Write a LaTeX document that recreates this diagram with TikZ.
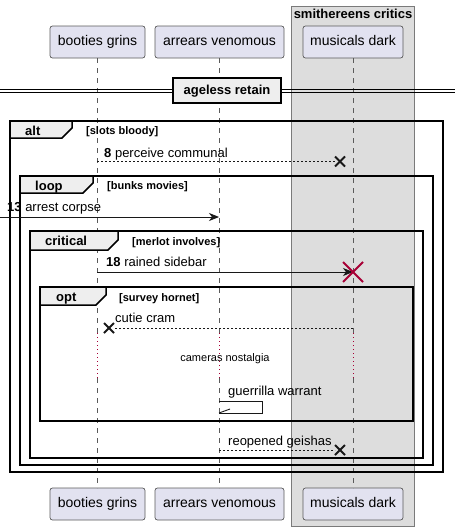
\documentclass[tikz,border=0pt]{standalone}
\usepackage{fontspec}
\setmainfont{Liberation Sans}
\usetikzlibrary{arrows.meta}
\definecolor{partfill}{HTML}{E2E2F0}
\definecolor{partline}{HTML}{5A5A5A}
\definecolor{grpfill}{HTML}{DDDDDD}
\definecolor{grpline}{HTML}{7A7A7A}
\definecolor{tabfill}{HTML}{EEEEEE}
\definecolor{msgline}{HTML}{181818}
\definecolor{darkred}{HTML}{A80036}
\tikzset{
  part/.style={draw=partline, fill=partfill, line width=0.7pt, rounded corners=2.5pt,
    minimum height=32pt, inner sep=0pt, text height=10pt, text depth=3pt,
    font=\fontsize{14}{16}\selectfont},
  life/.style={draw=partline, line width=0.7pt, dash pattern=on 5pt off 5pt},
  delayline/.style={draw=darkred, line width=0.8pt, dash pattern=on 1pt off 3pt},
  frameline/.style={draw=black, line width=1.5pt},
  tabshape/.style={draw=black, fill=tabfill, line width=1.5pt},
  ftitle/.style={anchor=base west, inner sep=0pt, font=\bfseries\fontsize{13}{15}\selectfont},
  fcond/.style={anchor=base west, inner sep=0pt, font=\bfseries\fontsize{11}{13}\selectfont},
  mlabel/.style={anchor=base west, inner sep=0pt, font=\fontsize{13}{15}\selectfont},
  msg/.style={draw=msgline, line width=0.9pt},
  msgdash/.style={draw=msgline, line width=0.9pt, dash pattern=on 2pt off 2pt},
  arrowtip/.style={-{Stealth[length=10pt,width=8pt,inset=3pt]}},
  xmark/.style={draw=msgline, line width=1.8pt},
  redx/.style={draw=darkred, line width=1.8pt}
}
\begin{document}
\begin{tikzpicture}[x=1pt,y=-1pt]
\useasboundingbox (0,0) rectangle (459,530);
% group box
\draw[fill=grpfill, draw=grpline, line width=1pt] (291,6) rectangle (414,526);
\node[anchor=base, inner sep=0pt, font=\bfseries\fontsize{13}{15}\selectfont] (grp) at (353,19) {smithereens critics};
% participants
\node[part, minimum width=95pt] (bgT) at (97.5,42) {booties grins};
\node[part, minimum width=129pt] (avT) at (219.5,42) {arrears venomous};
\node[part, minimum width=100pt] (mdT) at (353,42) {musicals dark};
\node[part, minimum width=95pt] (bgB) at (97.5,504) {booties grins};
\node[part, minimum width=129pt] (avB) at (219.5,504) {arrears venomous};
\node[part, minimum width=100pt] (mdB) at (353,504) {musicals dark};
% lifelines
\foreach \p/\x in {bg/97,av/219,md/353}{
  \coordinate (\p L1) at (\x,58);
  \coordinate (\p L2) at (\x,333);
  \coordinate (\p L3) at (\x,378);
  \coordinate (\p L4) at (\x,488);
  \draw[life] (\p L1) -- (\p L2);
  \draw[delayline] (\p L2) -- (\p L3);
  \draw[life] (\p L3) -- (\p L4);
}
% divider
\coordinate (dvA1) at (0,89); \coordinate (dvB1) at (455,89);
\coordinate (dvA2) at (0,92.5); \coordinate (dvB2) at (455,92.5);
\draw[line width=1pt] (dvA1) -- (dvB1);
\draw[line width=1pt] (dvA2) -- (dvB2);
\node[draw=black, fill=tabfill, line width=2pt, minimum width=108pt, minimum height=25pt, inner sep=0pt,
  font=\bfseries\fontsize{13}{15}\selectfont, text height=9.5pt, text depth=2.5pt] (div) at (227,90.5) {ageless retain};
% frames
% alt
\draw[frameline] (10,121) rectangle (443,472);
\draw[tabshape] (10,121) -- (72,121) -- (72,128) -- (62,138) -- (10,138) -- cycle;
\node[ftitle] (altT) at (25,135) {alt};
\node[fcond] (altC) at (86,134) {[slots bloody]};
% loop
\draw[frameline] (20,176) rectangle (433,465);
\draw[tabshape] (20,176) -- (93,176) -- (93,183) -- (83,193) -- (20,193) -- cycle;
\node[ftitle] (loopT) at (35,190) {loop};
\node[fcond] (loopC) at (107,189) {[bunks movies]};
% critical
\draw[frameline] (30,231) rectangle (423,458);
\draw[tabshape] (30,231) -- (118,231) -- (118,240) -- (108,250) -- (30,250) -- cycle;
\node[ftitle] (critT) at (45,245) {critical};
\node[fcond] (critC) at (132,245) {[merlot involves]};
% opt
\draw[frameline] (40,287) rectangle (413,421);
\draw[tabshape] (40,287) -- (106,287) -- (106,295) -- (96,305) -- (40,305) -- cycle;
\node[ftitle] (optT) at (56,301) {opt};
\node[fcond] (optC) at (119,301) {[survey hornet]};
% message 8
\coordinate (m8a) at (97,161.5); \coordinate (m8b) at (335,161.5);
\draw[msgdash] (m8a) -- (m8b);
\coordinate (x8) at (340,161.5);
\draw[xmark] ([shift={(-5,-5)}]x8) -- ([shift={(5,5)}]x8);
\draw[xmark] ([shift={(-5,5)}]x8) -- ([shift={(5,-5)}]x8);
\node[mlabel] (l8) at (104,157) {\textbf{8} perceive communal};
% message 13
\coordinate (m13a) at (0,217); \coordinate (m13b) at (219,217);
\draw[msg, arrowtip] (m13a) -- (m13b);
\node[mlabel] (l13) at (7,211.5) {\textbf{13} arrest corpse};
% message 18
\coordinate (m18a) at (97,272); \coordinate (m18b) at (353,272);
\draw[msg, arrowtip] (m18a) -- (m18b);
\draw[redx] ([shift={(-10,-10)}]m18b) -- ([shift={(10,10)}]m18b);
\draw[redx] ([shift={(-10,10)}]m18b) -- ([shift={(10,-10)}]m18b);
\node[mlabel] (l18) at (106,266.5) {\textbf{18} rained sidebar};
% cutie cram
\coordinate (mca) at (353,328); \coordinate (mcb) at (114,328);
\draw[msgdash] (mca) -- (mcb);
\coordinate (xc) at (109,328);
\draw[xmark] ([shift={(-5,-5)}]xc) -- ([shift={(5,5)}]xc);
\draw[xmark] ([shift={(-5,5)}]xc) -- ([shift={(5,-5)}]xc);
\node[mlabel] (lc) at (115,322.5) {cutie cram};
% delay text
\node[anchor=base, inner sep=0pt, font=\fontsize{11}{13}\selectfont] (dly) at (225,361) {cameras nostalgia};
% self message
\coordinate (s1) at (219,401); \coordinate (s2) at (262,401);
\coordinate (s3) at (262,413); \coordinate (s4) at (219,413);
\draw[msg] (s1) -- (s2) -- (s3) -- (s4);
\coordinate (s5) at (230,409);
\draw[msg] (s4) -- (s5);
\node[mlabel] (lg) at (228,395) {guerrilla warrant};
% reopened
\coordinate (mra) at (219,450); \coordinate (mrb) at (335,450);
\draw[msgdash] (mra) -- (mrb);
\coordinate (xr) at (340,450);
\draw[xmark] ([shift={(-5,-5)}]xr) -- ([shift={(5,5)}]xr);
\draw[xmark] ([shift={(-5,5)}]xr) -- ([shift={(5,-5)}]xr);
\node[mlabel] (lr) at (228,445) {reopened geishas};
\end{tikzpicture}
\end{document}
